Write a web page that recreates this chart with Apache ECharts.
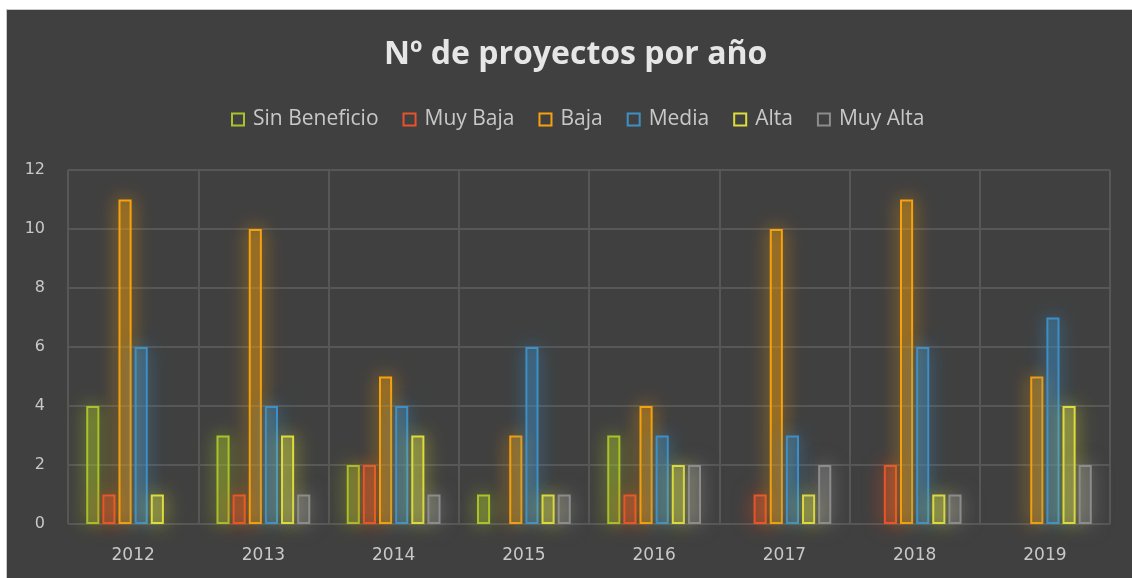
<!DOCTYPE html>
<html>
<head>
<meta charset="utf-8">
<script src="https://cdn.jsdelivr.net/npm/echarts@6/dist/echarts.min.js"></script>
<style>
html,body{margin:0;padding:0;background:#ffffff;width:1132px;height:578px;overflow:hidden;}
#bg{position:absolute;left:6px;top:9px;width:1126px;height:569px;background:#404040;border-left:1px solid #c9c9c9;border-top:1px solid #c9c9c9;box-sizing:border-box;}
#chart{position:absolute;left:0;top:0;width:1132px;height:578px;}
</style>
</head>
<body>
<div id="bg"></div>
<div id="chart"></div>
<script>
var titleText = 'Nº de proyectos por año';
var categories = ['2012','2013','2014','2015','2016','2017','2018','2019'];
var seriesNames = ['Sin Beneficio','Muy Baja','Baja','Media','Alta','Muy Alta'];
var sinBeneficio = [4,3,2,1,3,0,0,0];
var muyBaja      = [1,1,2,0,1,1,2,0];
var baja         = [11,10,5,3,4,10,11,5];
var media        = [6,4,4,6,3,3,6,7];
var alta         = [1,3,3,1,2,1,1,4];
var muyAlta      = [0,1,1,1,2,2,1,2];
var yTicks = [0,2,4,6,8,10,12];

var values = [sinBeneficio, muyBaja, baja, media, alta, muyAlta];
var colors = ['#a9c42a','#e8532a','#f7a10c','#3d8fc6','#dcdc3c','#8c8c8c'];
var fills  = ['rgba(169,196,42,0.32)','rgba(232,83,42,0.32)','rgba(247,161,12,0.32)','rgba(61,143,198,0.32)','rgba(220,220,60,0.32)','rgba(140,140,140,0.32)'];
var glows  = ['rgba(169,196,42,0.9)','rgba(232,83,42,0.9)','rgba(247,161,12,0.9)','rgba(61,143,198,0.9)','rgba(220,220,60,0.9)','rgba(170,170,170,0.7)'];

var series = seriesNames.map(function(n, i){
  return {
    name: n,
    type: 'bar',
    barGap: '23%',
    barCategoryGap: '28%',
    data: values[i].map(function(v){ return v === 0 ? '-' : v; }),
    itemStyle: {
      color: fills[i],
      borderColor: colors[i],
      borderWidth: 2,
      shadowBlur: 20,
      shadowColor: glows[i]
    },
    emphasis: {disabled: true}
  };
});

var chart = echarts.init(document.getElementById('chart'), null, {renderer:'canvas'});
chart.setOption({
  backgroundColor: 'transparent',
  animation: false,
  color: colors,
  title: {
    text: titleText,
    left: 379,
    top: 34,
    textStyle: {color:'#e6e6e6', fontSize: 32, fontWeight:'bold', fontFamily:'Open Sans'}
  },
  legend: {
    top: 104,
    left: 226,
    itemWidth: 12,
    itemHeight: 12,
    itemGap: 24,
    icon: 'rect',
    itemStyle: {color:'rgba(0,0,0,0)', borderWidth:2, shadowBlur:0},
    textStyle: {color:'#c8c8c8', fontSize: 21, fontFamily:'Open Sans', padding:[0,0,0,4]},
    data: seriesNames
  },
  grid: {left: 68, right: 22, top: 170, bottom: 54, containLabel: false},
  xAxis: {
    type: 'category',
    data: categories,
    axisLine: {show: false},
    axisTick: {show: false},
    splitLine: {show: true, lineStyle: {color:'#575757', width: 2}},
    axisLabel: {color:'#c8c8c8', fontSize: 17, fontFamily:'DejaVu Sans', margin: 23}
  },
  yAxis: {
    type: 'value',
    min: yTicks[0],
    max: yTicks[yTicks.length-1],
    interval: 2,
    axisLine: {show: false},
    axisTick: {show: false},
    splitLine: {lineStyle: {color:'#575757', width: 2}},
    axisLabel: {color:'#c8c8c8', fontSize: 16, fontFamily:'DejaVu Sans', margin: 23}
  },
  series: series
});
</script>
</body>
</html>
